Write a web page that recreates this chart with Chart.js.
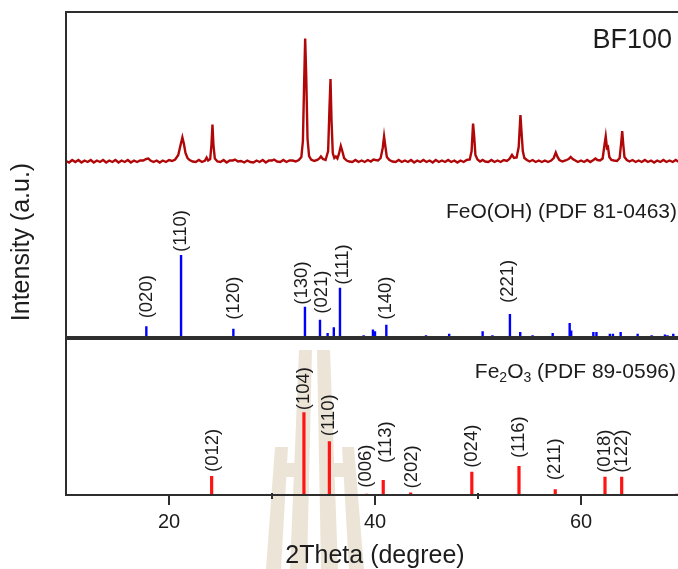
<!DOCTYPE html>
<html>
<head>
<meta charset="utf-8">
<script src="https://cdn.jsdelivr.net/npm/chart.js@4.4.1/dist/chart.umd.min.js"></script>
<style>
  html, body { margin:0; padding:0; background:#fff; overflow:hidden; width:678px; height:569px; }
  #top { position:absolute; left:0; top:0; }
  #bot { position:absolute; left:0; top:338px; }
</style>
</head>
<body>
<canvas id="top" width="700" height="338"></canvas>
<canvas id="bot" width="700" height="231"></canvas>
<script>
// x axis
const xTicks = [20, 40, 60];
const xMinor = [30, 50, 70];

// measured pattern BF100, [2theta, intensity]
const bf100 = [
  [10.0,2],[10.3,0.5],[10.6,3],[10.9,1],[11.2,3],[11.5,0.5],[11.8,2.5],[12.1,1],[12.4,3],[12.7,0.5],
  [13.0,2.5],[13.3,1],[13.6,3],[13.9,0.5],[14.2,2.5],[14.5,1],[14.8,3],[15.1,0.5],[15.4,2.5],[15.7,1],
  [16.0,3],[16.3,0.5],[16.6,2.5],[16.9,1],[17.2,2.5],[17.5,2.5],[17.8,4],[18.0,4.5],[18.2,2.5],[18.5,1],
  [18.8,2.5],[19.1,0.5],[19.4,2.5],[19.7,1],[20.0,3],[20.3,2],[20.6,3.5],[20.9,8],[21.1,17],[21.3,25.5],
  [21.45,19],[21.6,10],[21.8,5],[22.0,3],[22.3,1.5],[22.6,1],[22.9,3],[23.2,1],[23.5,2.5],[23.65,5.5],
  [23.8,2.5],[24.0,4],[24.12,18],[24.22,38.5],[24.32,17],[24.45,4.5],[24.7,1.5],[25.0,1],[25.3,3],[25.6,0.5],
  [25.9,2.5],[26.2,2.5],[26.4,3.5],[26.7,1.5],[27.0,2],[27.3,0.5],[27.6,2.5],[27.9,1],[28.2,0.5],[28.5,2.5],
  [28.8,1],[29.1,3],[29.4,0.5],[29.7,2.5],[30.0,2.5],[30.2,3.5],[30.5,1.5],[30.8,1],[31.1,3],[31.4,1],
  [31.7,2.5],[32.0,2.5],[32.3,1.5],[32.6,3],[32.85,6],[33.0,22],[33.12,80],[33.22,124.5],[33.32,88],[33.45,24],
  [33.6,7],[33.8,3.5],[34.1,2],[34.4,3],[34.6,4.5],[34.75,6.5],[34.95,4],[35.2,3],[35.45,12],[35.58,55],
  [35.68,84],[35.78,42],[35.9,10],[36.05,5],[36.2,6.5],[36.35,4.5],[36.5,9],[36.68,17],[36.85,11],[37.0,5],
  [37.25,2.5],[37.5,1.5],[37.8,1],[38.1,3],[38.4,1],[38.7,2.5],[39.0,1],[39.3,3],[39.6,1.5],[39.85,3.5],
  [40.05,3],[40.3,2.5],[40.55,5],[40.75,15],[40.88,26.5],[41.0,17],[41.15,6],[41.4,3],[41.7,1.5],[42.0,1],
  [42.3,3],[42.6,1],[42.9,2.5],[43.2,1],[43.5,3],[43.8,0.5],[44.1,2.5],[44.4,1],[44.7,3],[45.0,1],
  [45.3,2.5],[45.6,0.5],[45.9,3],[46.2,1],[46.5,2.5],[46.8,1],[47.1,3],[47.4,1],[47.7,2.5],[48.0,0.5],
  [48.3,2.5],[48.6,1],[48.9,3],[49.2,3.5],[49.38,12],[49.52,39.5],[49.62,28],[49.75,8],[49.95,3.5],[50.2,1.5],
  [50.45,3],[50.7,1.5],[51.0,1],[51.3,3],[51.6,1],[51.9,2.5],[52.2,1],[52.5,3],[52.8,2],[53.05,4],
  [53.3,8],[53.5,5],[53.75,5.5],[53.95,16],[54.12,48],[54.22,32],[54.35,12],[54.5,5],[54.75,3],[55.0,1.5],
  [55.3,3],[55.6,1],[55.9,2.5],[56.2,1],[56.5,2.5],[56.8,1],[57.1,2.5],[57.35,5],[57.55,10.5],[57.72,6],
  [57.9,3],[58.2,1.5],[58.5,2.5],[58.8,4],[59.0,6],[59.2,4],[59.45,2.5],[59.7,1],[60.0,2.5],[60.3,1],
  [60.6,3],[60.9,1],[61.2,3],[61.4,4.5],[61.6,3],[61.85,2.5],[62.1,4.5],[62.28,18],[62.4,26.5],[62.52,15],
  [62.62,16],[62.75,6],[62.95,3],[63.2,2.5],[63.5,2],[63.75,5],[63.9,20],[64.0,32],[64.1,19],[64.22,6],
  [64.45,3],[64.7,1.5],[65.0,3],[65.3,1],[65.6,2.5],[65.9,1],[66.2,3],[66.5,1],[66.8,2.5],[67.1,0.5],
  [67.4,2.5],[67.7,1],[68.0,3],[68.3,1],[68.6,2.5],[68.9,1],[69.2,3],[69.5,1],[69.8,2.5],[70.0,1.5]
];

// FeO(OH) PDF 81-0463 reference lines
const feoPos = [17.8, 21.17, 26.25, 33.2, 34.66, 35.4, 36.0, 36.6, 38.9, 39.8, 40.0, 41.1, 43.1, 44.95, 47.2, 50.45, 51.4,
  53.1, 54.1, 55.3, 57.25, 58.9, 59.05, 61.2, 61.5, 62.8, 63.1, 63.85, 65.5, 66.86, 68.15, 68.4, 68.96];
const feoInt = [13, 100, 10, 37, 21, 5, 12, 60, 2, 9, 7, 15, 1, 2, 4, 7, 2,
  28, 6, 2, 5, 17, 8, 6, 6, 4, 4, 6, 4, 2, 3, 2, 4];
const feoHkl = ['(020)', '(110)', '(120)', '(130)', '(021)', '(111)', '(140)', '(221)'];
const feoHklPos = [17.8, 21.17, 26.25, 33.2, 34.66, 36.6, 41.1, 53.1];

// Fe2O3 PDF 89-0596 reference lines
const fe2o3Pos = [24.14, 33.1, 35.57, 39.2, 40.8, 43.46, 49.4, 53.98, 57.5, 62.33, 63.95, 69.3];
const fe2o3Int = [23, 100, 65, 1.5, 18, 3, 28, 35, 7, 22, 22, 1.5];
const fe2o3Hkl = ['(012)', '(104)', '(110)', '(006)', '(113)', '(202)', '(024)', '(116)', '(211)', '(018)', '(122)'];
const fe2o3HklPos = [24.14, 33.1, 35.57, 39.2, 40.8, 43.46, 49.4, 53.98, 57.5, 62.33, 63.95];

// label nudges [dx, gap above line] in px
const feoNudge = [[1,8],[0,3],[1,9],[-3,2],[2,6],[3,3],[0,5],[-2,11]];
const fe2o3Nudge = [[1.5,4],[0,2],[0,5],[-1,6],[3,17],[1,4],[0,4],[0,8],[0,9],[0,4],[0,4]];

const FONT = '"Liberation Sans", Arial, sans-serif';
const TEXT = '#1c1c1c';
const AXIS = '#2e2e2e';

function sticks(pos, vals) {
  const pts = [];
  pos.forEach((p, i) => {
    pts.push({x: p, y: 0}, {x: p, y: vals[i]}, {x: p, y: null});
  });
  return pts;
}

function drawHkl(ctx, xs, ys, texts, at, pos, vals, nudge) {
  ctx.save();
  ctx.fillStyle = TEXT;
  ctx.font = '18.5px ' + FONT;
  ctx.textAlign = 'left';
  ctx.textBaseline = 'middle';
  texts.forEach((t, i) => {
    const v = vals[pos.indexOf(at[i])];
    const px = xs.getPixelForValue(at[i]) + nudge[i][0];
    const py = ys.getPixelForValue(v) - nudge[i][1];
    ctx.save();
    ctx.translate(px, py);
    ctx.rotate(-Math.PI / 2);
    ctx.fillText(t, 0, 0);
    ctx.restore();
  });
  ctx.restore();
}

function frame(ctx, a, sides) {
  ctx.save();
  ctx.strokeStyle = AXIS;
  ctx.lineWidth = 2;
  ctx.beginPath();
  if (sides.includes('t')) { ctx.moveTo(a.left - 1, a.top); ctx.lineTo(a.right, a.top); }
  if (sides.includes('l')) { ctx.moveTo(a.left, a.top); ctx.lineTo(a.left, a.bottom); }
  if (sides.includes('b')) { ctx.moveTo(a.left - 1, a.bottom); ctx.lineTo(a.right, a.bottom); }
  ctx.stroke();
  ctx.restore();
}

const topDecor = {
  id: 'topDecor',
  afterDatasetsDraw(chart) {
    const {ctx, chartArea, scales} = chart;
    frame(ctx, chartArea, 'tlb');
    drawHkl(ctx, scales.x, scales.yb, feoHkl, feoHklPos, feoPos, feoInt, feoNudge);
    ctx.save();
    ctx.fillStyle = TEXT;
    ctx.textAlign = 'right';
    ctx.textBaseline = 'middle';
    ctx.font = '27px ' + FONT;
    ctx.fillText('BF100', 672, 41);
    ctx.font = '21px ' + FONT;
    ctx.fillText('FeO(OH) (PDF 81-0463)', 677, 212);
    ctx.translate(22, 242);
    ctx.rotate(-Math.PI / 2);
    ctx.textAlign = 'center';
    ctx.font = '25px ' + FONT;
    ctx.fillText('Intensity (a.u.)', 0, 0);
    ctx.restore();
  }
};

const botDecor = {
  id: 'botDecor',
  beforeDraw(chart) {
    // faint watermark behind the plot
    const ctx = chart.ctx;
    ctx.save();
    ctx.fillStyle = '#ece5d7';
    const polys = [
      [[275,109],[288,109],[281,231],[266,231]],
      [[299,12],[312,12],[307,231],[290,231]],
      [[317,12],[330,12],[338,231],[321,231]],
      [[342,109],[354,109],[364,231],[349,231]]
    ];
    polys.forEach(p => {
      ctx.beginPath();
      ctx.moveTo(p[0][0], p[0][1]);
      p.slice(1).forEach(q => ctx.lineTo(q[0], q[1]));
      ctx.closePath();
      ctx.fill();
    });
    ctx.fillRect(285, 125, 16, 14);
    ctx.fillRect(331, 125, 14, 14);
    ctx.restore();
  },
  afterDatasetsDraw(chart) {
    const {ctx, chartArea: a, scales} = chart;
    frame(ctx, a, 'tlb');
    ctx.save();
    ctx.strokeStyle = AXIS;
    ctx.lineWidth = 2;
    ctx.beginPath();
    xTicks.forEach(v => {
      const px = Math.round(scales.x.getPixelForValue(v));
      ctx.moveTo(px, a.bottom); ctx.lineTo(px, a.bottom + 10);
    });
    xMinor.forEach(v => {
      const px = Math.round(scales.x.getPixelForValue(v));
      ctx.moveTo(px, a.bottom - 2); ctx.lineTo(px, a.bottom + 4);
    });
    ctx.stroke();
    ctx.restore();

    drawHkl(ctx, scales.x, scales.y, fe2o3Hkl, fe2o3HklPos, fe2o3Pos, fe2o3Int, fe2o3Nudge);

    // Fe2O3 label with subscripts
    ctx.save();
    ctx.fillStyle = TEXT;
    ctx.textAlign = 'left';
    ctx.textBaseline = 'middle';
    const parts = [['Fe', 0], ['2', 1], ['O', 0], ['3', 1], [' (PDF 89-0596)', 0]];
    const big = '21px ' + FONT, small = '14px ' + FONT;
    let w = 0;
    parts.forEach(p => { ctx.font = p[1] ? small : big; w += ctx.measureText(p[0]).width; });
    let x = 676 - w;
    const y = 34;
    parts.forEach(p => {
      ctx.font = p[1] ? small : big;
      ctx.fillText(p[0], x, p[1] ? y + 6 : y);
      x += ctx.measureText(p[0]).width;
    });
    ctx.restore();
  }
};

const hidden = {display: false};

new Chart(document.getElementById('top'), {
  type: 'line',
  data: {
    datasets: [
      {
        data: bf100.map(p => ({x: p[0], y: p[1]})),
        yAxisID: 'yr',
        borderColor: '#b00808',
        borderWidth: 2.4,
        pointRadius: 0,
        tension: 0
      },
      {
        data: sticks(feoPos, feoInt),
        yAxisID: 'yb',
        borderColor: '#0000ff',
        borderWidth: 2.4,
        borderCapStyle: 'butt',
        pointRadius: 0,
        spanGaps: false
      }
    ]
  },
  options: {
    responsive: false,
    animation: false,
    layout: {padding: {left: 66, top: 12, right: 16, bottom: 1}},
    plugins: {legend: hidden, tooltip: {enabled: false}},
    scales: {
      x: {type: 'linear', min: 10, max: 70, display: false},
      yr: {type: 'linear', min: -174, max: 151, display: false},
      yb: {type: 'linear', min: 0, max: 396, display: false}
    }
  },
  plugins: [topDecor]
});

new Chart(document.getElementById('bot'), {
  type: 'line',
  data: {
    datasets: [{
      data: sticks(fe2o3Pos, fe2o3Int),
      borderColor: '#ff1414',
      borderWidth: 3.2,
      borderCapStyle: 'butt',
      pointRadius: 0,
      spanGaps: false
    }]
  },
  options: {
    responsive: false,
    animation: false,
    layout: {padding: {left: 66, top: 1, right: 16, bottom: 0}},
    plugins: {legend: hidden, tooltip: {enabled: false}},
    scales: {
      x: {
        type: 'linear', min: 10, max: 70,
        afterBuildTicks: s => { s.ticks = xTicks.map(v => ({value: v})); },
        afterFit: s => { s.height = 74; },
        grid: {display: false, drawTicks: false},
        border: {display: false},
        ticks: {font: {family: FONT, size: 20}, color: TEXT, padding: 15, maxRotation: 0, autoSkip: false},
        title: {display: true, text: '2Theta (degree)', color: TEXT, padding: 0,
          font: {family: FONT, size: 25, lineHeight: 1}}
      },
      y: {type: 'linear', min: 0, max: 188.6, display: false}
    }
  },
  plugins: [botDecor]
});
</script>
</body>
</html>
